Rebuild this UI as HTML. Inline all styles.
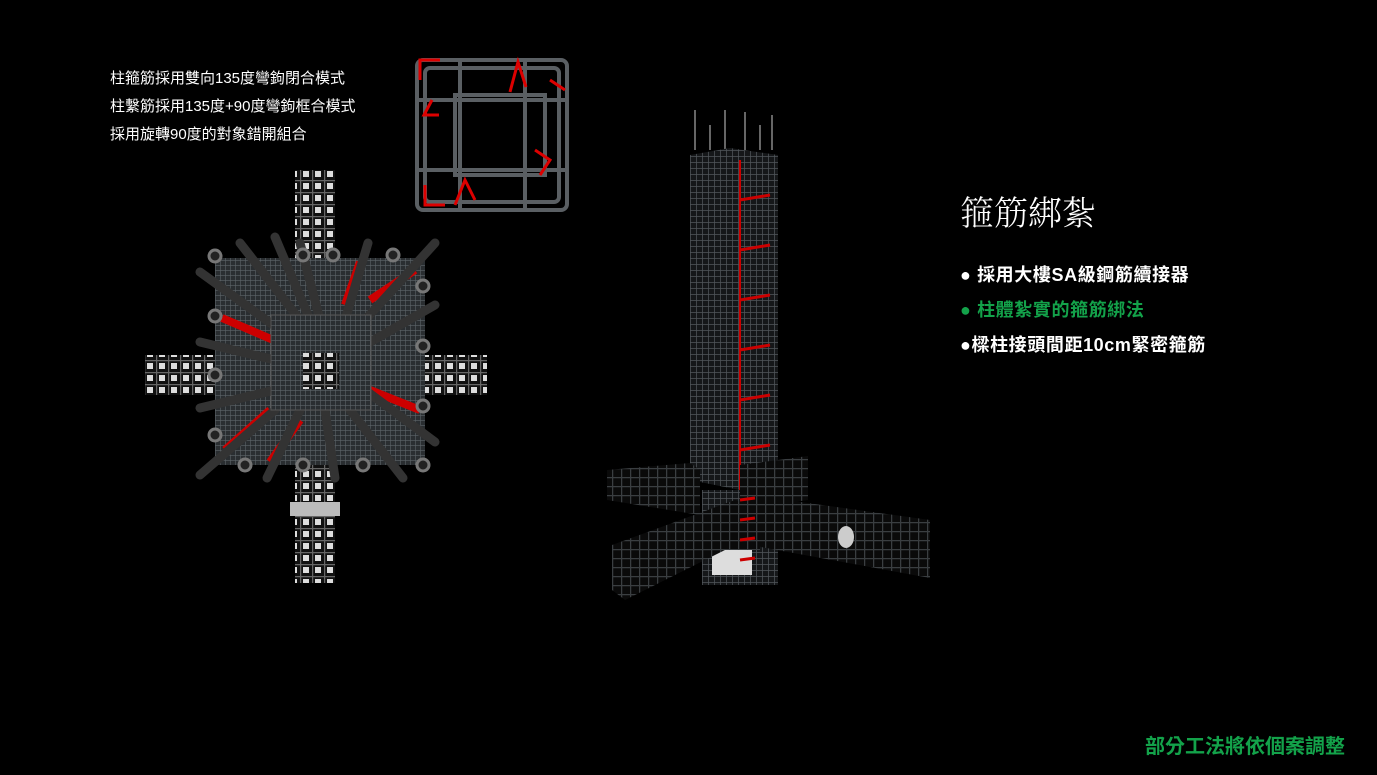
<!DOCTYPE html>
<html><head><meta charset="utf-8"><style>
body{margin:0;width:1377px;height:775px;background:#000;overflow:hidden;position:relative;font-family:"Liberation Sans","Noto Sans CJK TC",sans-serif}
.t{position:absolute;color:#fff;white-space:nowrap}
</style></head><body>
<svg width="1377" height="775" style="position:absolute;left:0;top:0">
<defs>
<pattern id="g" width="5" height="5" patternUnits="userSpaceOnUse"><rect width="5" height="5" fill="#2a2e31"/><path d="M0 0H5M0 0V5" stroke="#5d6468" stroke-width="1.2"/></pattern>
<pattern id="t" width="6" height="6" patternUnits="userSpaceOnUse"><rect width="6" height="6" fill="#151719"/><path d="M0 0H6M0 0V6" stroke="#50565a" stroke-width="1.5"/></pattern>
<pattern id="b" width="9" height="9" patternUnits="userSpaceOnUse"><rect width="9" height="9" fill="#0a0a0a"/><path d="M0 0H9M0 0V9" stroke="#3a3e41" stroke-width="2.5"/></pattern>
<pattern id="c" width="12" height="12" patternUnits="userSpaceOnUse"><rect width="12" height="12" fill="#111"/><rect x="3" y="3" width="6" height="6" fill="#ddd"/><path d="M0 0H12M0 0V12" stroke="#666" stroke-width="2.5"/></pattern>
</defs>
<!-- top view arms -->
<rect x="295" y="170" width="40" height="90" fill="url(#c)"/>
<rect x="295" y="465" width="40" height="118" fill="url(#c)"/>
<rect x="290" y="502" width="50" height="14" fill="#bbb"/>
<rect x="145" y="355" width="72" height="40" fill="url(#c)"/>
<rect x="424" y="355" width="63" height="40" fill="url(#c)"/>
<rect x="215" y="258" width="210" height="207" fill="url(#g)"/>
<g stroke="#c00" stroke-width="8"><line x1="222" y1="318" x2="285" y2="345"/><line x1="345" y1="305" x2="360" y2="262"/><line x1="370" y1="300" x2="415" y2="270"/><line x1="370" y1="390" x2="420" y2="410"/><line x1="225" y1="450" x2="270" y2="410"/><line x1="270" y1="462" x2="300" y2="420"/></g>
<g stroke="#333" stroke-width="9" stroke-linecap="round">
<line x1="240" y1="243" x2="300" y2="320"/><line x1="275" y1="237" x2="310" y2="320"/><line x1="300" y1="243" x2="320" y2="320"/><line x1="368" y1="243" x2="345" y2="320"/><line x1="435" y1="243" x2="365" y2="320"/><line x1="200" y1="272" x2="280" y2="330"/><line x1="200" y1="342" x2="275" y2="360"/><line x1="200" y1="408" x2="275" y2="390"/><line x1="435" y1="305" x2="365" y2="345"/><line x1="435" y1="442" x2="365" y2="390"/><line x1="200" y1="475" x2="275" y2="410"/><line x1="267" y1="478" x2="300" y2="410"/><line x1="335" y1="478" x2="325" y2="410"/><line x1="403" y1="478" x2="350" y2="410"/>
</g>
<g fill="#222" stroke="#777" stroke-width="3"><circle cx="215" cy="256" r="6"/><circle cx="215" cy="316" r="6"/><circle cx="215" cy="375" r="6"/><circle cx="215" cy="435" r="6"/><circle cx="303" cy="255" r="6"/><circle cx="333" cy="255" r="6"/><circle cx="393" cy="255" r="6"/><circle cx="423" cy="286" r="6"/><circle cx="423" cy="346" r="6"/><circle cx="423" cy="406" r="6"/><circle cx="423" cy="465" r="6"/><circle cx="303" cy="465" r="6"/><circle cx="363" cy="465" r="6"/><circle cx="245" cy="465" r="6"/></g>
<rect x="271" y="315" width="100" height="95" fill="url(#g)" stroke="#555"/>
<rect x="303" y="353" width="36" height="36" fill="url(#c)"/>
<!-- inset -->
<g fill="none" stroke="#5a5f63" stroke-width="4"><rect x="417" y="60" width="150" height="150" rx="6"/><rect x="425" y="68" width="134" height="134" rx="5"/><rect x="455" y="95" width="90" height="80"/><line x1="460" y1="60" x2="460" y2="210"/><line x1="525" y1="60" x2="525" y2="210"/><line x1="417" y1="100" x2="567" y2="100"/><line x1="417" y1="170" x2="567" y2="170"/></g>
<g fill="none" stroke="#d00" stroke-width="3"><path d="M420 80V60h20"/><path d="M432 100l-8 15h15"/><path d="M510 92l8-30 8 25"/><path d="M535 150l15 10-10 15"/><path d="M455 205l10-25 10 20"/><path d="M425 185v20h20"/><path d="M550 80l15 10"/></g>
<!-- tower -->
<g stroke="#666" stroke-width="2"><line x1="695" y1="110" x2="695" y2="150"/><line x1="710" y1="125" x2="710" y2="150"/><line x1="725" y1="110" x2="725" y2="150"/><line x1="745" y1="112" x2="745" y2="150"/><line x1="760" y1="125" x2="760" y2="150"/><line x1="772" y1="115" x2="772" y2="150"/></g>
<polygon points="690,155 730,148 778,155 778,480 740,490 690,480" fill="url(#t)"/>
<g stroke="#c00" stroke-width="2"><line x1="740" y1="160" x2="740" y2="490"/></g>
<g stroke="#c00" stroke-width="3"><line x1="740" y1="200" x2="770" y2="195"/><line x1="740" y1="250" x2="770" y2="245"/><line x1="740" y1="300" x2="770" y2="295"/><line x1="740" y1="350" x2="770" y2="345"/><line x1="740" y1="400" x2="770" y2="395"/><line x1="740" y1="450" x2="770" y2="445"/></g>
<rect x="702" y="490" width="76" height="95" fill="url(#t)"/>
<rect x="712" y="550" width="40" height="25" fill="#ddd"/>
<polygon points="607,470 690,463 700,470 700,515 607,500" fill="url(#b)"/>
<polygon points="740,465 808,456 808,500 740,510" fill="url(#b)"/>
<polygon points="750,495 930,520 930,578 750,545" fill="url(#b)"/>
<polygon points="735,500 760,505 760,550 725,550 625,600 612,590 612,545" fill="url(#b)"/>
<g stroke="#c00" stroke-width="3"><line x1="740" y1="500" x2="755" y2="498"/><line x1="740" y1="520" x2="755" y2="518"/><line x1="740" y1="540" x2="755" y2="538"/><line x1="740" y1="560" x2="755" y2="558"/></g>
<ellipse cx="846" cy="537" rx="8" ry="11" fill="#ccc"/>
</svg>
<div class="t" style="left:110px;top:65px;font-size:15px;line-height:28px">柱箍筋採用雙向135度彎鉤閉合模式<br>柱繫筋採用135度+90度彎鉤框合模式<br>採用旋轉90度的對象錯開組合</div>
<div class="t" style="left:960px;top:186px;font-size:34px;font-family:'Noto Serif CJK SC',serif;font-weight:300">箍筋綁紮</div>
<div class="t" style="left:960px;top:258px;font-size:18px;font-weight:bold;line-height:35px;letter-spacing:0.6px">● 採用大樓SA級鋼筋續接器<br><span style="color:#13a24a">● 柱體紮實的箍筋綁法</span><br>●樑柱接頭間距10cm緊密箍筋</div>
<div class="t" style="left:1145px;top:730px;font-size:20px;font-weight:bold;color:#13a24a">部分工法將依個案調整</div>
</body></html>
